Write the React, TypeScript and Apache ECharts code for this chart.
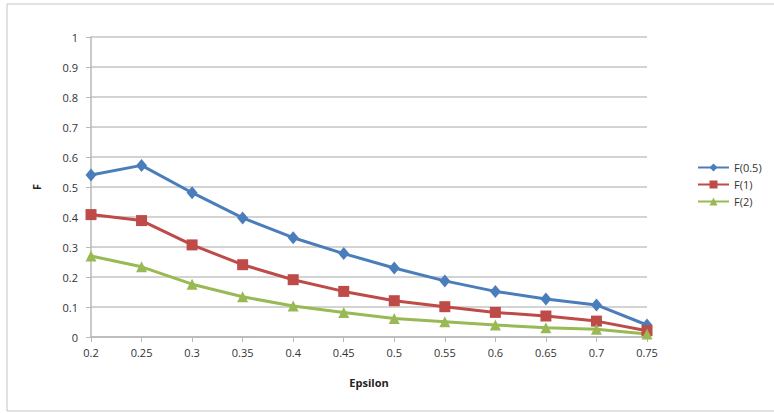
import React, { useEffect, useRef } from "react";
import * as echarts from "echarts";

const categories = ["0.2", "0.25", "0.3", "0.35", "0.4", "0.45", "0.5", "0.55", "0.6", "0.65", "0.7", "0.75"];
const f05 = [0.54, 0.572, 0.481, 0.397, 0.331, 0.278, 0.23, 0.187, 0.152, 0.127, 0.107, 0.04];
const f1 = [0.408, 0.388, 0.307, 0.241, 0.191, 0.152, 0.121, 0.101, 0.082, 0.07, 0.053, 0.021];
const f2 = [0.27, 0.234, 0.176, 0.134, 0.103, 0.082, 0.062, 0.051, 0.04, 0.031, 0.026, 0.01];
const seriesNames = ["F(0.5)", "F(1)", "F(2)"];

const FONT = "'Open Sans', 'Noto Sans', sans-serif";

export default function App() {
  const ref = useRef<HTMLDivElement>(null);
  useEffect(() => {
    if (!ref.current) return;
    const chart = echarts.init(ref.current, null, { renderer: "svg" });
    const mk = (name: string, data: number[], color: string, symbol: string, size: any) => ({
      name,
      type: "line",
      data,
      symbol,
      symbolSize: size,
      showAllSymbol: true,
      itemStyle: { color },
      lineStyle: { color, width: 3 },
    });
    chart.setOption({
      animation: false,
      backgroundColor: "#ffffff",
      textStyle: { fontFamily: FONT },
      graphic: [
        {
          type: "rect",
          shape: { x: 7, y: 4, width: 768, height: 407 },
          style: { fill: "none", stroke: "#c4c4c4", lineWidth: 1 },
          silent: true,
        },
      ],
      grid: { left: 91, top: 37, right: 127, bottom: 76 },
      legend: {
        orient: "vertical",
        left: 692,
        top: 157,
        itemWidth: 31,
        itemHeight: 10,
        itemGap: 6,
        data: seriesNames,
        textStyle: { fontSize: 11, color: "#333", fontFamily: FONT },
      },
      xAxis: {
        type: "category",
        data: categories,
        boundaryGap: false,
        name: "Epsilon",
        nameLocation: "middle",
        nameGap: 40,
        nameTextStyle: { fontSize: 11, fontWeight: "bold", color: "#222", fontFamily: FONT },
        axisLine: { lineStyle: { color: "#b8b8b8", width: 1.5 } },
        axisTick: { show: true, alignWithLabel: true, length: 5, lineStyle: { color: "#b8b8b8" } },
        axisLabel: { fontSize: 11, color: "#333", margin: 10, fontFamily: FONT },
        splitLine: { show: false },
      },
      yAxis: {
        type: "value",
        min: 0,
        max: 1,
        interval: 0.1,
        name: "F",
        nameLocation: "middle",
        nameGap: 49,
        nameTextStyle: { fontSize: 11, fontWeight: "bold", color: "#222", fontFamily: FONT },
        axisLine: { show: true, lineStyle: { color: "#b8b8b8", width: 1.5 } },
        axisTick: { show: true, length: 5, lineStyle: { color: "#b8b8b8" } },
        axisLabel: {
          fontSize: 11,
          color: "#333",
          margin: 13,
          fontFamily: FONT,
          formatter: (v: number) => String(Math.round(v * 10) / 10),
        },
        splitLine: { show: true, lineStyle: { color: "#c4c4c4", width: 1.5 } },
      },
      series: [
        mk(seriesNames[0], f05, "#4a7ebb", "diamond", [11, 13]),
        mk(seriesNames[1], f1, "#be4b48", "rect", 11),
        mk(seriesNames[2], f2, "#98b954", "triangle", 11),
      ],
    });
    return () => chart.dispose();
  }, []);
  return (
    <div
      ref={ref}
      style={{ position: "fixed", left: 0, top: 0, width: 774, height: 413 }}
    />
  );
}
